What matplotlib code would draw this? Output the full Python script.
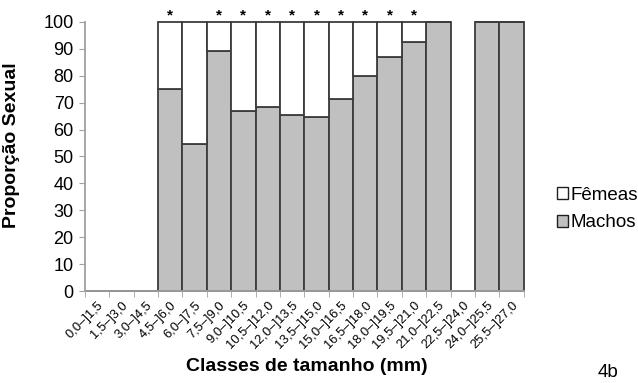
import matplotlib
matplotlib.use("Agg")

import matplotlib.pyplot as plt
import numpy as np
from matplotlib.patches import Patch

plt.rcParams['font.family'] = ['Liberation Sans', 'DejaVu Sans']

classes = ['0,0–]1,5', '1,5–]3,0', '3,0–]4,5', '4,5–]6,0', '6,0–]7,5', '7,5–]9,0',
           '9,0–]10,5', '10,5–]12,0', '12,0–]13,5', '13,5–]15,0', '15,0–]16,5',
           '16,5–]18,0', '18,0–]19,5', '19,5–]21,0', '21,0–]22,5', '22,5–]24,0',
           '24,0–]25,5', '25,5–]27,0']
machos = [0, 0, 0, 75, 54.5, 89, 67, 68.5, 65.5, 64.5, 71.5, 80, 87, 92.5, 100, 0, 100, 100]
has_data = [0, 0, 0, 1, 1, 1, 1, 1, 1, 1, 1, 1, 1, 1, 1, 0, 1, 1]
femeas = [100 - m if d else 0 for m, d in zip(machos, has_data)]
significant = [3, 5, 6, 7, 8, 9, 10, 11, 12, 13]

fig = plt.figure(figsize=(6.38, 3.83), dpi=100)
ax = fig.add_axes([0.133, 0.240, 0.688, 0.703])

x = np.arange(len(classes))
edge = '#3c3c3c'
ax.bar(x, machos, width=1.0, color='#c0c0c0', edgecolor=edge, linewidth=1.3)
ax.bar(x, femeas, width=1.0, bottom=machos, color='white', edgecolor=edge, linewidth=1.3)

for i in significant:
    ax.text(i, 102.5, '*', ha='center', va='center', fontsize=11, fontweight='bold')

ax.set_xlim(-0.5, len(classes) - 0.5)
ax.set_ylim(0, 100)
ax.set_yticks(np.arange(0, 101, 10))
ax.tick_params(axis='y', labelsize=13, length=4, color='#a0a0a0', pad=4)

ax.set_xticks(x)
ax.set_xticklabels(classes, rotation=45, ha='right', rotation_mode='anchor', fontsize=9.3)
ax.tick_params(axis='x', length=0, pad=6)
ax.set_xticks(np.arange(-0.5, len(classes), 1.0), minor=True)
ax.tick_params(axis='x', which='minor', length=4, color='#a0a0a0')

for side in ['top', 'right']:
    ax.spines[side].set_visible(False)
for side in ['left', 'bottom']:
    ax.spines[side].set_color('#a0a0a0')
    ax.spines[side].set_linewidth(1.3)
for p in ax.patches:
    p.set_clip_on(False)

ax.set_ylabel('Proporção Sexual', fontsize=14, fontweight='bold')
ax.yaxis.set_label_coords(-0.148, 0.54)
fig.text(0.481, 0.042, 'Classes de tamanho (mm)', ha='center', va='center',
         fontsize=14, fontweight='bold')
fig.text(0.936, 0.027, '4b', ha='left', va='center', fontsize=13.5)

handles = [Patch(facecolor='white', edgecolor='#202020', label='Fêmeas'),
           Patch(facecolor='#c0c0c0', edgecolor='#202020', label='Machos')]
fig.legend(handles=handles, loc='center left', bbox_to_anchor=(0.858, 0.454),
           frameon=False, fontsize=13.5, handlelength=0.6, handleheight=0.6,
           handletextpad=0.15, labelspacing=0.55, borderpad=0)

plt.savefig('out.png', dpi=100)
